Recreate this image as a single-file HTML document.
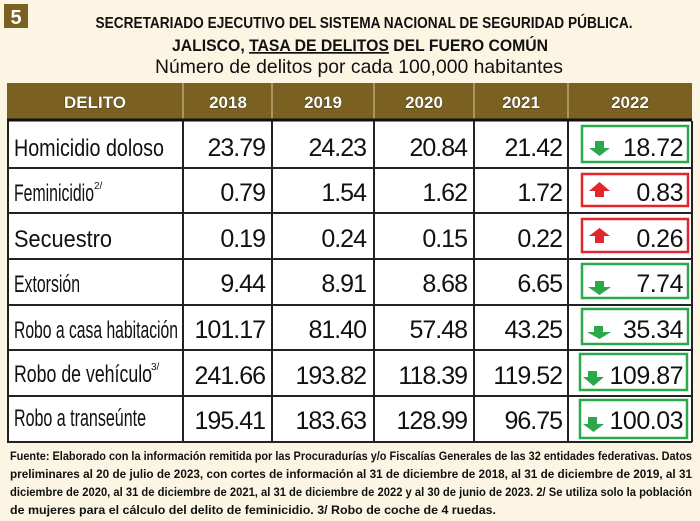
<!DOCTYPE html>
<html><head><meta charset="utf-8"><style>
html,body{margin:0;padding:0;background:#fcf5e3;}
svg{display:block;}
</style></head><body>
<svg width="700" height="521" viewBox="0 0 700 521" xmlns="http://www.w3.org/2000/svg" font-family="Liberation Sans Narrow, Liberation Sans, sans-serif">
<rect width="700" height="521" fill="#fcf5e3"/>
<rect x="4" y="4" width="24" height="24" fill="#7a6122"/>
<text x="16" y="24" font-size="20" font-weight="bold" fill="#fff" text-anchor="middle" font-family="Liberation Sans, sans-serif">5</text>
<g font-weight="bold" fill="#111" text-anchor="middle" font-family="Liberation Sans Narrow, Liberation Sans, sans-serif">
<text x="364" y="28" font-size="16" textLength="537" lengthAdjust="spacingAndGlyphs">SECRETARIADO EJECUTIVO DEL SISTEMA NACIONAL DE SEGURIDAD PÚBLICA.</text>
<text x="360" y="51" font-size="17" textLength="376" lengthAdjust="spacingAndGlyphs">JALISCO, <tspan text-decoration="underline">TASA DE DELITOS</tspan> DEL FUERO COMÚN</text>
</g>
<text x="359" y="73" font-size="19.5" fill="#111" text-anchor="middle" textLength="408" lengthAdjust="spacingAndGlyphs" font-family="Liberation Sans Narrow, Liberation Sans, sans-serif">Número de delitos por cada 100,000 habitantes</text>
<!-- header -->
<rect x="7" y="83" width="685" height="36" fill="#7a6122"/>
<g stroke="#d8c9a0" stroke-width="1">
<line x1="183" y1="83" x2="183" y2="119"/><line x1="272" y1="83" x2="272" y2="119"/><line x1="374" y1="83" x2="374" y2="119"/><line x1="474" y1="83" x2="474" y2="119"/><line x1="568" y1="83" x2="568" y2="119"/>
</g>
<g font-family="Liberation Sans, sans-serif" font-weight="bold" font-size="17" fill="#fff" text-anchor="middle" stroke="#3a2c08" stroke-width="0.8" paint-order="stroke">
<text x="95" y="108">DELITO</text><text x="228" y="108">2018</text><text x="323" y="108">2019</text><text x="424" y="108">2020</text><text x="521" y="108">2021</text><text x="630" y="108">2022</text>
</g>
<rect x="7" y="121" width="685" height="321" fill="#fff"/>
<line x1="7" y1="120" x2="692" y2="120" stroke="#111" stroke-width="3"/>
<g stroke="#222" stroke-width="2" fill="none">
<line x1="7" y1="168" x2="692" y2="168"/><line x1="7" y1="213" x2="692" y2="213"/><line x1="7" y1="259" x2="692" y2="259"/><line x1="7" y1="305" x2="692" y2="305"/><line x1="7" y1="350" x2="692" y2="350"/><line x1="7" y1="396" x2="692" y2="396"/><line x1="7" y1="442" x2="692" y2="442"/>
<line x1="8" y1="121" x2="8" y2="442"/><line x1="183" y1="121" x2="183" y2="442"/><line x1="272" y1="121" x2="272" y2="442"/><line x1="374" y1="121" x2="374" y2="442"/><line x1="474" y1="121" x2="474" y2="442"/><line x1="568" y1="121" x2="568" y2="442"/><line x1="692" y1="121" x2="692" y2="442"/>
</g>
<g font-size="24" fill="#111" font-family="Liberation Sans Narrow, Liberation Sans, sans-serif">
<text x="14" y="156" textLength="150" lengthAdjust="spacingAndGlyphs">Homicidio doloso</text>
<text x="14" y="201" textLength="80" lengthAdjust="spacingAndGlyphs">Feminicidio</text>
<text x="94" y="189" font-size="10">2/</text>
<text x="14" y="247" textLength="98" lengthAdjust="spacingAndGlyphs">Secuestro</text>
<text x="14" y="292" textLength="66" lengthAdjust="spacingAndGlyphs">Extorsión</text>
<text x="14" y="338" textLength="164" lengthAdjust="spacingAndGlyphs">Robo a casa habitación</text>
<text x="14" y="382" textLength="138" lengthAdjust="spacingAndGlyphs">Robo de vehículo</text>
<text x="151" y="370" font-size="10">3/</text>
<text x="14" y="426" textLength="132" lengthAdjust="spacingAndGlyphs">Robo a transeúnte</text>
</g>
<g font-size="25" fill="#111" text-anchor="end" font-family="Liberation Sans, sans-serif" letter-spacing="-1">
<text x="265" y="156">23.79</text><text x="366" y="156">24.23</text><text x="467" y="156">20.84</text><text x="562" y="156">21.42</text>
<text x="265" y="201">0.79</text><text x="366" y="201">1.54</text><text x="467" y="201">1.62</text><text x="562" y="201">1.72</text>
<text x="265" y="247">0.19</text><text x="366" y="247">0.24</text><text x="467" y="247">0.15</text><text x="562" y="247">0.22</text>
<text x="265" y="292">9.44</text><text x="366" y="292">8.91</text><text x="467" y="292">8.68</text><text x="562" y="292">6.65</text>
<text x="265" y="338">101.17</text><text x="366" y="338">81.40</text><text x="467" y="338">57.48</text><text x="562" y="338">43.25</text>
<text x="265" y="384">241.66</text><text x="366" y="384">193.82</text><text x="467" y="384">118.39</text><text x="562" y="384">119.52</text>
<text x="265" y="429">195.41</text><text x="366" y="429">183.63</text><text x="467" y="429">128.99</text><text x="562" y="429">96.75</text>
</g>
<!-- 2022 boxes -->
<g fill="none" stroke-width="2.5">
<rect x="582" y="126" width="106" height="36" stroke="#2aa84a"/>
<rect x="582" y="174" width="106" height="32" stroke="#e3262b"/>
<rect x="582" y="219" width="106" height="33" stroke="#e3262b"/>
<rect x="582" y="264" width="106" height="34" stroke="#2aa84a"/>
<rect x="582" y="309" width="106" height="35" stroke="#2aa84a"/>
<rect x="580" y="354" width="107" height="36" stroke="#2aa84a"/>
<rect x="580" y="400" width="107" height="38" stroke="#2aa84a"/>
</g>
<g fill="#2aa84a">
<polygon points="595,141 604,141 604,148 610,148 599.5,156 589,148 595,148"/>
<polygon points="595,281 604,281 604,287 611,287 599.5,295 588,287 595,287"/>
<polygon points="594,326 603,326 603,332 611,332 599.5,339 587,332 594,332"/>
<polygon points="588,371 597,371 597,377 604,377 593.5,386 583,377 588,377"/>
<polygon points="588,417 597,417 597,424 604,424 593.5,432 583,424 588,424"/>
</g>
<g fill="#e3262b">
<polygon points="599.5,182 610,191 604,191 604,197 595,197 595,191 589,191"/>
<polygon points="599.5,228 610,236 604,236 604,243 595,243 595,236 589,236"/>
</g>
<g font-size="25" fill="#111" text-anchor="end" font-family="Liberation Sans, sans-serif" letter-spacing="-0.5">
<text x="683" y="156">18.72</text><text x="683" y="201">0.83</text><text x="683" y="247">0.26</text><text x="683" y="292">7.74</text><text x="683" y="338">35.34</text><text x="683" y="384">109.87</text><text x="683" y="429">100.03</text>
</g>
<g font-size="12" font-weight="bold" fill="#111" font-family="Liberation Sans Narrow, Liberation Sans, sans-serif">
<text x="10" y="460" textLength="682" lengthAdjust="spacingAndGlyphs">Fuente: Elaborado con la información remitida por las Procuradurías y/o Fiscalías Generales de las 32 entidades federativas. Datos</text>
<text x="10" y="478" textLength="682" lengthAdjust="spacingAndGlyphs">preliminares al 20 de julio de 2023, con cortes de información al 31 de diciembre de 2018, al 31 de diciembre de 2019, al 31</text>
<text x="10" y="496" textLength="682" lengthAdjust="spacingAndGlyphs">diciembre de 2020, al 31 de diciembre de 2021, al 31 de diciembre de 2022 y al 30 de junio de 2023. 2/ Se utiliza solo la población</text>
<text x="10" y="514" textLength="486" lengthAdjust="spacingAndGlyphs">de mujeres para el cálculo del delito de feminicidio. 3/ Robo de coche de 4 ruedas.</text>
</g>
</svg>
</body></html>
